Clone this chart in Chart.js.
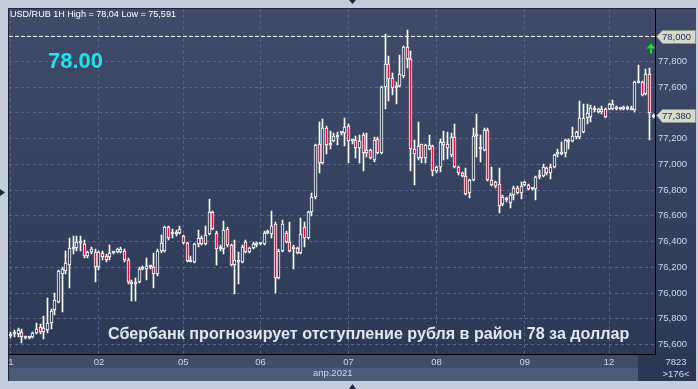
<!DOCTYPE html>
<html>
<head>
<meta charset="utf-8">
<script src="https://cdn.jsdelivr.net/npm/chart.js@4.4.1/dist/chart.umd.min.js"></script>
<style>
  html, body { margin: 0; padding: 0; background: #c3cddb; overflow: hidden; }
  canvas { display: block; }
</style>
</head>
<body>
<canvas id="myChart" width="698" height="389"></canvas>
<script>
//!Data
var title = "USD/RUB 1H High = 78,04 Low = 75,591";
var bigLabel = "78.00";
var headline = "Сбербанк прогнозирует отступление рубля в район 78 за доллар";
var monthLabel = "апр.2021";
var dayLabels = ["1", "02", "05", "06", "07", "08", "09", "12"];
var dayStart = [0, 24, 47, 68, 92, 116, 140, 163];
var yTicks = [75.6, 75.8, 76.0, 76.2, 76.4, 76.6, 76.8, 77.0, 77.2, 77.4, 77.6, 77.8, 78.0];
var levelPrice = 78.0;
var levelText = "78,000";
var lastPrice = 77.38;
var lastText = "77,380";
var footTop = "7823";
var footBottom = ">176<";

var open = [75.67,75.68,75.68,75.70,75.65,75.65,75.66,75.69,75.74,75.70,75.71,75.77,75.87,75.93,76.15,76.17,76.22,76.34,76.35,76.39,76.38,76.29,76.32,76.32,
  76.20,76.31,76.29,76.28,76.31,76.32,76.32,76.33,76.26,76.09,76.07,76.09,76.19,76.19,76.20,76.20,76.15,76.33,76.33,76.51,76.46,76.46,76.47,
  76.44,76.39,76.24,76.24,76.38,76.43,76.38,76.46,76.63,76.47,76.34,76.34,76.50,76.37,76.22,76.26,76.24,76.40,76.32,76.35,76.37,
  76.38,76.38,76.47,76.46,76.54,76.12,76.33,76.47,76.40,76.34,76.35,76.31,76.51,76.43,76.63,76.75,77.16,77.01,77.28,77.15,77.18,77.21,77.24,77.24,
  77.30,77.18,77.19,77.13,77.23,77.09,77.11,77.03,77.20,77.09,77.60,77.78,77.67,77.59,77.61,77.69,77.91,77.82,77.12,77.05,77.16,77.05,77.12,77.14,
  76.95,76.98,77.17,77.16,77.07,77.21,76.98,76.93,76.91,76.78,76.88,77.22,77.12,77.11,77.27,76.88,76.86,76.85,76.69,76.74,76.70,76.76,76.82,76.78,
  76.84,76.84,76.81,76.81,76.90,76.91,76.97,76.93,76.98,77.08,77.08,77.09,77.19,77.18,77.21,77.21,77.25,77.36,77.37,77.44,77.41,77.41,77.43,
  77.43,77.43,77.43,77.43,77.43,77.43,77.44,77.42,77.63,77.64,77.55,77.70,77.37];
var high = [75.70,75.71,75.73,75.72,75.67,75.67,75.70,75.77,75.76,75.82,75.96,75.88,76.00,76.18,76.20,76.33,76.43,76.44,76.44,76.44,76.41,76.33,76.36,76.34,
  76.33,76.33,76.30,76.37,76.33,76.35,76.36,76.34,76.27,76.10,76.12,76.20,76.21,76.27,76.22,76.31,76.34,76.45,76.52,76.52,76.50,76.49,76.52,
  76.45,76.40,76.29,76.39,76.49,76.44,76.52,76.73,76.64,76.48,76.37,76.56,76.51,76.38,76.41,76.32,76.37,76.41,76.36,76.40,76.40,
  76.39,76.48,76.49,76.64,76.55,76.34,76.57,76.48,76.55,76.37,76.36,76.58,76.55,76.64,76.78,77.16,77.33,77.35,77.30,77.26,77.24,77.25,77.25,77.36,
  77.31,77.20,77.22,77.23,77.24,77.24,77.12,77.21,77.21,77.61,78.01,77.84,77.71,77.64,77.85,77.92,78.04,77.88,77.19,77.33,77.16,77.16,77.23,77.15,
  76.99,77.20,77.26,77.25,77.24,77.31,76.99,76.94,76.97,76.89,77.28,77.39,77.23,77.28,77.28,76.98,76.87,76.97,76.76,76.75,76.78,76.83,76.83,76.86,
  76.87,76.85,76.82,76.91,76.96,77.00,76.98,77.00,77.08,77.12,77.17,77.20,77.20,77.29,77.26,77.49,77.47,77.47,77.46,77.45,77.44,77.45,77.44,
  77.48,77.50,77.45,77.44,77.45,77.45,77.45,77.65,77.77,77.65,77.74,77.75,77.39];
var low = [75.65,75.66,75.66,75.61,75.64,75.64,75.65,75.68,75.68,75.64,75.69,75.72,75.83,75.92,75.85,76.15,76.04,76.30,76.33,76.33,76.27,76.27,76.30,76.09,
  76.18,76.26,76.24,76.26,76.30,76.31,76.31,76.24,76.07,75.94,75.94,76.08,76.18,76.10,76.19,76.04,76.13,76.31,76.32,76.41,76.43,76.44,76.46,
  76.38,76.24,76.24,76.23,76.36,76.37,76.37,76.45,76.49,76.22,76.33,76.30,76.36,76.21,75.99,76.07,76.23,76.31,76.31,76.34,76.36,
  76.37,76.37,76.46,76.43,76.00,76.11,76.32,76.39,76.32,76.19,76.30,76.30,76.36,76.42,76.60,76.73,76.93,77.00,77.08,77.12,77.17,77.15,77.23,77.14,
  77.01,77.16,77.05,77.01,76.95,77.06,77.04,77.02,77.08,77.08,77.43,77.49,77.54,77.47,77.60,77.67,77.75,76.95,76.84,77.03,77.01,77.01,77.11,76.91,
  76.93,76.94,77.03,77.04,77.06,76.97,76.92,76.90,76.76,76.74,76.87,77.06,77.02,77.10,76.87,76.83,76.82,76.62,76.68,76.71,76.66,76.72,76.77,76.73,
  76.83,76.80,76.80,76.72,76.89,76.90,76.92,76.89,76.97,77.06,77.07,77.06,77.12,77.17,77.20,77.20,77.24,77.31,77.33,77.41,77.40,77.39,77.36,
  77.42,77.42,77.42,77.42,77.42,77.42,77.42,77.41,77.63,77.53,77.54,77.19,77.36];
var close = [75.68,75.69,75.71,75.66,75.66,75.66,75.69,75.72,75.70,75.73,75.77,75.86,75.95,76.17,76.19,76.23,76.35,76.36,76.40,76.39,76.29,76.32,76.34,76.20,
  76.32,76.28,76.26,76.31,76.32,76.34,76.34,76.26,76.09,76.07,76.09,76.19,76.20,76.21,76.21,76.15,76.33,76.39,76.51,76.43,76.47,76.47,76.50,
  76.39,76.25,76.26,76.38,76.43,76.38,76.45,76.63,76.50,76.34,76.36,76.49,76.37,76.22,76.26,76.24,76.36,76.32,76.35,76.38,76.38,
  76.38,76.47,76.48,76.52,76.12,76.33,76.54,76.40,76.33,76.35,76.31,76.46,76.43,76.63,76.75,77.15,77.01,77.28,77.15,77.15,77.22,77.22,77.24,77.29,
  77.18,77.19,77.13,77.18,77.09,77.11,77.05,77.19,77.09,77.60,77.78,77.66,77.59,77.61,77.70,77.91,77.82,77.12,77.08,77.14,77.05,77.15,77.15,76.95,
  76.98,77.17,77.15,77.13,77.21,76.98,76.93,76.91,76.77,76.88,77.22,77.23,77.13,77.27,76.88,76.84,76.83,76.68,76.75,76.72,76.76,76.82,76.78,76.83,
  76.86,76.81,76.81,76.90,76.91,76.98,76.93,76.98,77.07,77.09,77.09,77.19,77.17,77.22,77.25,77.36,77.36,77.40,77.44,77.42,77.43,77.43,77.37,
  77.47,77.47,77.44,77.44,77.44,77.44,77.42,77.64,77.64,77.54,77.70,77.40,77.38];

var bars = open.map(function(v, i) { return i; });
var upColor = "#ffffff";
var downColor = "#e5103c";
var textColor = "#c9d8f4";
var font = "Liberation Sans, Arial, sans-serif";

function panelGradient(ctx, top, bottom) {
  var g = ctx.createLinearGradient(0, top, 0, bottom);
  g.addColorStop(0, "#3f4b68");
  g.addColorStop(1, "#2c3956");
  return g;
}

function priceBox(c, yy, text) {
  c.fillStyle = "#d8dbca";
  c.strokeStyle = "#8e9486";
  c.lineWidth = 1;
  c.beginPath();
  c.moveTo(656.5, yy);
  c.lineTo(662.5, yy - 6);
  c.lineTo(695.5, yy - 6);
  c.lineTo(695.5, yy + 7);
  c.lineTo(662.5, yy + 7);
  c.closePath();
  c.fill();
  c.stroke();
  c.fillStyle = "#1c2f63";
  c.font = "9.5px " + font;
  c.textAlign = "left";
  c.textBaseline = "middle";
  c.fillText(text, 662, yy + 1);
}

// snap candles to whole pixels so the thin outlines stay sharp
var crisp = {
  id: "crisp",
  afterDatasetsUpdate: function(chart) {
    chart.data.datasets.forEach(function(ds, k) {
      chart.getDatasetMeta(k).data.forEach(function(el) {
        el.x = Math.floor(el.x) + 0.5;
        el.y = Math.round(el.y);
        el.base = Math.round(el.base);
      });
    });
  }
};

var frame = {
  id: "frame",
  beforeDraw: function(chart) {
    var c = chart.ctx, a = chart.chartArea;
    c.save();
    c.fillStyle = "#c3cddb";
    c.fillRect(0, 0, chart.width, chart.height);
    c.fillStyle = panelGradient(c, a.top, a.bottom);
    c.fillRect(8, 8, 688, a.bottom - 8);
    // time band
    c.fillStyle = "#3f4d6a";
    c.fillRect(8, a.bottom, 630, 14);
    c.fillStyle = "#4c5b78";
    c.fillRect(8, a.bottom + 14, 630, 13);
    c.fillStyle = "#2c3853";
    c.fillRect(638, a.bottom, 17, 27);
    c.fillStyle = "#2b3752";
    c.fillRect(655, a.bottom, 41, 27);
    c.restore();
  },
  afterDraw: function(chart) {
    var c = chart.ctx, a = chart.chartArea, ys = chart.scales.y;
    c.save();
    // panel edges
    c.strokeStyle = "#1d2638";
    c.lineWidth = 1;
    c.beginPath();
    c.moveTo(8.5, a.bottom + 27);
    c.lineTo(8.5, 8.5);
    c.lineTo(696, 8.5);
    c.stroke();
    // level line
    var y78 = Math.round(ys.getPixelForValue(levelPrice)) + 0.5;
    c.strokeStyle = "#eeeeee";
    c.setLineDash([4, 2]);
    c.beginPath();
    c.moveTo(a.left, y78);
    c.lineTo(a.right, y78);
    c.stroke();
    c.setLineDash([]);
    priceBox(c, y78, levelText);
    var yLast = Math.round(ys.getPixelForValue(lastPrice)) + 0.5;
    priceBox(c, yLast, lastText);
    // green arrow
    c.fillStyle = "#1fe01f";
    c.beginPath();
    c.moveTo(651, y78 + 7);
    c.lineTo(655.5, y78 + 12);
    c.lineTo(646.5, y78 + 12);
    c.closePath();
    c.fill();
    c.fillRect(650, y78 + 12, 2, 5);
    // texts
    c.textBaseline = "middle";
    c.textAlign = "left";
    c.fillStyle = "#ffffff";
    c.font = "11px " + font;
    var tw = c.measureText(title).width;
    c.font = (11 * 166 / tw).toFixed(2) + "px " + font;
    c.fillText(title, 10, 15);
    c.fillStyle = "#1ee3ec";
    c.font = "bold 22px " + font;
    c.fillText(bigLabel, 48, 62);
    c.font = "bold 17px " + font;
    var w = c.measureText(headline).width;
    c.font = "bold " + (17 * 522 / w).toFixed(2) + "px " + font;
    c.fillStyle = "#e2e6ee";
    c.fillText(headline, 108, 335);
    c.fillStyle = textColor;
    c.font = "9.5px " + font;
    c.fillText(monthLabel, 313, a.bottom + 19);
    c.textAlign = "center";
    c.fillText(footTop, 676, a.bottom + 8);
    c.fillText(footBottom, 676, a.bottom + 20);
    // frame markers
    c.fillStyle = "#1b2940";
    c.beginPath();
    c.moveTo(349, 0); c.lineTo(356, 0); c.lineTo(352.5, 4); c.closePath(); c.fill();
    c.beginPath();
    c.moveTo(349, 389); c.lineTo(356, 389); c.lineTo(352.5, 384); c.closePath(); c.fill();
    c.beginPath();
    c.moveTo(0, 189); c.lineTo(5, 192.5); c.lineTo(0, 196); c.closePath(); c.fill();
    c.restore();
  }
};

var ctx = document.getElementById("myChart").getContext("2d");
var myChart = new Chart(ctx, {
  type: "bar",
  data: {
    labels: bars,
    datasets: [
      {
        label: "body",
        order: 0,
        grouped: false,
        barThickness: 3,
        minBarLength: 2,
        borderWidth: 1,
        borderSkipped: false,
        borderColor: upColor,
        backgroundColor: function(c) {
          var i = c.dataIndex, a = c.chart.chartArea;
          if (close[i] < open[i]) return downColor;
          if (!a) return "#35415e";
          return panelGradient(c.chart.ctx, a.top, a.bottom);
        },
        data: bars.map(function(i) {
          return [Math.min(open[i], close[i]), Math.max(open[i], close[i])];
        })
      },
      {
        label: "wick",
        order: 1,
        grouped: false,
        barThickness: 1,
        borderWidth: 0,
        backgroundColor: upColor,
        data: bars.map(function(i) { return [low[i], high[i]]; })
      }
    ]
  },
  options: {
    responsive: false,
    animation: false,
    events: [],
    layout: { padding: { left: 9, top: 8, right: 0, bottom: 0 } },
    plugins: { legend: { display: false }, tooltip: { enabled: false } },
    scales: {
      x: {
        type: "category",
        offset: true,
        grid: { offset: false, color: "#58648a", drawTicks: false },
        border: { color: "#000000", width: 1, dash: [3, 3] },
        ticks: {
          autoSkip: false,
          maxRotation: 0,
          minRotation: 0,
          padding: 3,
          color: textColor,
          font: { family: font, size: 9.5 },
          callback: function(v, i) {
            var k = dayStart.indexOf(i);
            return k < 0 ? null : dayLabels[k];
          }
        },
        afterFit: function(s) { s.height = 35; }
      },
      y: {
        position: "right",
        min: 75.527,
        max: 78.209,
        grid: { color: "#58648a", drawTicks: false },
        border: { color: "#000000", width: 1, dash: [3, 3] },
        ticks: {
          padding: 3,
          color: textColor,
          font: { family: font, size: 9.5 },
          callback: function(v) {
            if (Math.abs(v - levelPrice) < 0.001 || Math.abs(v - 77.4) < 0.001) return "";
            return v.toFixed(3).replace(".", ",");
          }
        },
        afterBuildTicks: function(s) {
          s.ticks = yTicks.map(function(v) { return { value: v }; });
        },
        afterFit: function(s) { s.width = 43; }
      }
    }
  },
  plugins: [crisp, frame]
});
</script>
</body>
</html>
